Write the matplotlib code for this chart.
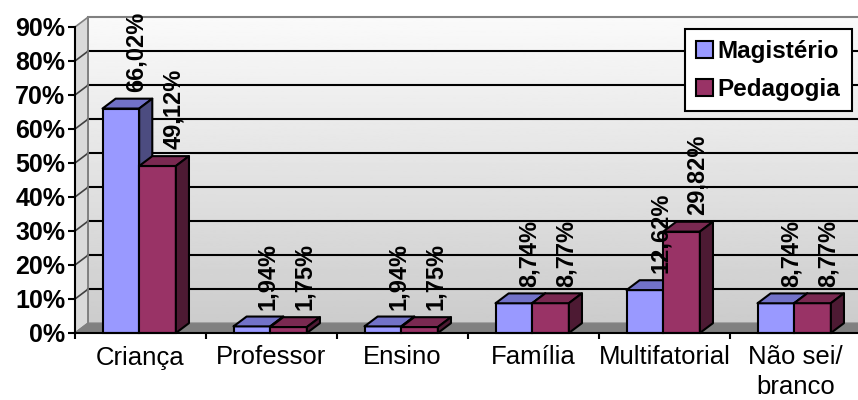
import numpy as np
import matplotlib.pyplot as plt
from matplotlib.patches import Polygon, Patch

plt.rcParams['font.family'] = ['Liberation Sans', 'DejaVu Sans']

# dados
categorias = ["Criança", "Professor", "Ensino", "Família", "Multifatorial", "Não sei/\nbranco"]
magisterio = [66.02, 1.94, 1.94, 8.74, 12.62, 8.74]
pedagogia = [49.12, 1.75, 1.75, 8.77, 29.82, 8.77]
rot_mag = ["66,02%", "1,94%", "1,94%", "8,74%", "12,62%", "8,74%"]
rot_ped = ["49,12%", "1,75%", "1,75%", "8,77%", "29,82%", "8,77%"]
yticks = [0, 10, 20, 30, 40, 50, 60, 70, 80, 90]

# cores: frente, topo, lado
cores_mag = ("#9999FF", "#7272C8", "#4C4C80")
cores_ped = ("#993366", "#7A2951", "#4D1A33")

dx, dy = 0.1, 2.9   # profundidade "3D"
w = 0.28
n = len(categorias)

fig = plt.figure(figsize=(8.58, 4), dpi=100)
ax = fig.add_axes([75/858, 67/400, 786/858, 306/400])

# parede do fundo com degrade
grad = np.linspace(0.80, 0.98, 256).reshape(-1, 1)
ax.imshow(grad, cmap='gray', vmin=0, vmax=1, origin='lower', aspect='auto',
          extent=(dx, n + dx, dy, 90 + dy), zorder=0, clip_on=False)

# parede lateral e piso
ax.add_patch(Polygon([(0, 0), (dx, dy), (dx, 90 + dy), (0, 90)], closed=True,
                     fc='#DADADA', ec='#808080', lw=1.2, zorder=0.6, clip_on=False))
ax.add_patch(Polygon([(0, 0), (n, 0), (n + dx, dy), (dx, dy)], closed=True,
                     fc='#808080', ec='#808080', lw=1, zorder=0.6, clip_on=False))

# linhas de grade
for t in yticks[1:-1]:
    ax.plot([dx, n + dx], [t + dy, t + dy], color='black', lw=1.5, zorder=1.5, clip_on=False)
    ax.plot([0, dx], [t, t + dy], color='#404040', lw=1.2, zorder=1.5, clip_on=False)
ax.plot([dx, n + dx], [90 + dy, 90 + dy], color='#808080', lw=1.5, zorder=1.5, clip_on=False)
ax.plot([dx, dx], [dy, 90 + dy], color='#808080', lw=1.2, zorder=1.5, clip_on=False)


def barra3d(x0, v, cores, z):
    ax.bar(x0, v, width=w, align='edge', color=cores[0], edgecolor='black',
           lw=1.5, zorder=z, clip_on=False)
    topo = [(x0, v), (x0 + w, v), (x0 + w + dx, v + dy), (x0 + dx, v + dy)]
    lado = [(x0 + w, 0), (x0 + w + dx, dy), (x0 + w + dx, v + dy), (x0 + w, v)]
    ax.add_patch(Polygon(topo, closed=True, fc=cores[1], ec='black', lw=1.5,
                         zorder=z, clip_on=False, joinstyle='round'))
    ax.add_patch(Polygon(lado, closed=True, fc=cores[2], ec='black', lw=1.5,
                         zorder=z, clip_on=False, joinstyle='round'))


for i in range(n):
    xa = i + 0.21
    xb = xa + w
    barra3d(xa, magisterio[i], cores_mag, 3 + i * 0.1)
    barra3d(xb, pedagogia[i], cores_ped, 3.05 + i * 0.1)
    ax.text(xa + w / 2 + 0.12, magisterio[i] + dy + 2, rot_mag[i], rotation=90,
            ha='center', va='bottom', fontsize=17, fontweight='bold', zorder=6, clip_on=False)
    ax.text(xb + w / 2 + 0.12, pedagogia[i] + dy + 2, rot_ped[i], rotation=90,
            ha='center', va='bottom', fontsize=17, fontweight='bold', zorder=6, clip_on=False)

ax.set_xlim(0, n)
ax.set_ylim(0, 90)
ax.patch.set_visible(False)
for s in ['top', 'right']:
    ax.spines[s].set_visible(False)
for s in ['left', 'bottom']:
    ax.spines[s].set_linewidth(1.5)
    ax.spines[s].set_zorder(7)

ax.set_yticks(yticks)
ax.set_yticklabels([f"{t}%" for t in yticks], fontsize=18, fontweight='bold')
ax.tick_params(axis='y', length=5, width=1.5, pad=2)

ax.set_xticks(range(n + 1))
ax.set_xticklabels([])
ax.tick_params(axis='x', which='major', length=4.3, width=1.5)
ax.set_xticks([i + 0.5 for i in range(n)], minor=True)
ax.set_xticklabels(categorias, minor=True, fontsize=18.5, linespacing=1.3)
ax.tick_params(axis='x', which='minor', length=0, pad=9)

handles = [Patch(fc=cores_mag[0], ec='black', lw=1.5, label='Magistério'),
           Patch(fc=cores_ped[0], ec='black', lw=1.5, label='Pedagogia')]
leg = ax.legend(handles=handles, loc='upper left', bbox_to_anchor=(685/858, 371/400),
                bbox_transform=fig.transFigure, borderaxespad=0, frameon=True,
                fancybox=False, edgecolor='black', framealpha=1,
                prop={'size': 17.5, 'weight': 'bold'}, handlelength=0.7, handleheight=0.7,
                handletextpad=0.2, labelspacing=0.6, borderpad=0.45)
leg.get_frame().set_linewidth(1.5)
leg.set_zorder(8)

fig.savefig('out.png', dpi=100)
